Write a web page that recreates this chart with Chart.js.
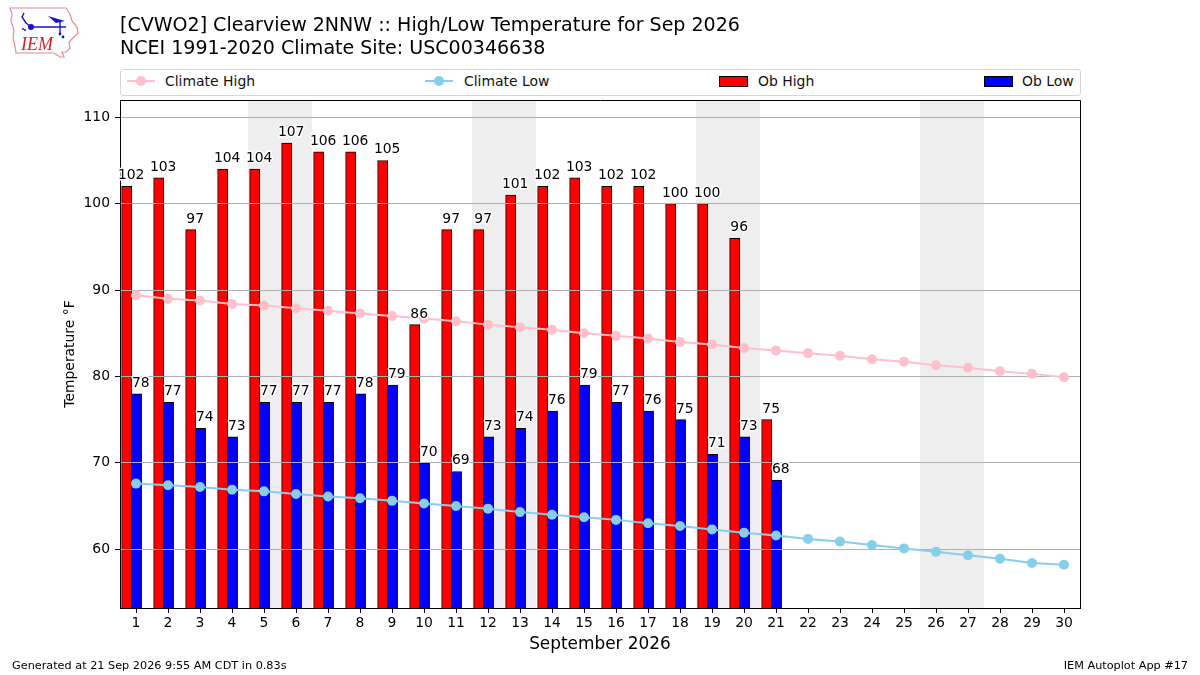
<!DOCTYPE html>
<html><head><meta charset="utf-8">
<script src="https://cdn.jsdelivr.net/npm/chart.js@4"></script>
<style>
html,body{margin:0;padding:0;background:#fff;}
body{width:1200px;height:675px;position:relative;overflow:hidden;font-family:"DejaVu Sans",sans-serif;color:#000;}
canvas{position:absolute;left:0;top:0;}
.t{position:absolute;white-space:nowrap;}
#title{left:120px;top:13px;font-size:19.05px;line-height:23px;}
.f{font-size:11.25px;top:659px;line-height:13px;}
#legend{position:absolute;left:120px;top:69px;width:959px;height:25px;border:1px solid #d6d6d6;border-radius:3px;background:#fff;}
.lt{position:absolute;top:3px;font-size:13.95px;line-height:16px;color:#111;white-space:nowrap;}
.sw{position:absolute;top:6px;width:27px;height:9px;border:1px solid #000;}
svg.h{position:absolute;top:0;}
#logo{position:absolute;left:8px;top:6px;}
</style></head><body>
<canvas id="c" width="1200" height="675"></canvas>
<svg id="logo" width="72" height="54" viewBox="0 0 72 54">
<path d="M2 2 L58 2 L62 8 L64 15 L69 21 L70 27 L66 31 L61 36 L62 42 L58 46 L54 46 L56 51 L52 51 L46 47 L8 47 L7 40 L5 32 L6 24 L3 15 L4 8 Z" fill="#fff" stroke="#e88a90" stroke-width="1.2"/>
<path d="M23 21 H58 M52 15 V28 M16 7 L14 11 L18 17 L23 21" fill="none" stroke="#1414d2" stroke-width="1.4"/>
<path d="M40 10 L50 13 L57 15 L48 17 Z" fill="#1414d2"/>
<circle cx="23" cy="21" r="3" fill="#1414d2"/>
<circle cx="52" cy="28" r="1.4" fill="#1414d2"/><circle cx="55" cy="31" r="1.4" fill="#1414d2"/>
<circle cx="15" cy="23" r="1" fill="#1414d2"/><circle cx="17" cy="24" r="1" fill="#1414d2"/>
<text x="13" y="44" font-family="Liberation Serif" font-style="italic" font-size="18" fill="#d8202a">IEM</text>
</svg>
<div id="title" class="t">[CVWO2] Clearview 2NNW :: High/Low Temperature for Sep 2026<br>NCEI 1991-2020 Climate Site: USC00346638</div>
<div id="legend">
<svg class="h" style="left:5px" width="30" height="25"><line x1="1" y1="11" x2="29" y2="11" stroke="#ffc0cb" stroke-width="2"/><circle cx="15" cy="11" r="5" fill="#ffc0cb"/></svg>
<span class="lt" style="left:44px">Climate High</span>
<svg class="h" style="left:303px" width="30" height="25"><line x1="1" y1="11" x2="29" y2="11" stroke="#87ceeb" stroke-width="2"/><circle cx="15" cy="11" r="5" fill="#87ceeb"/></svg>
<span class="lt" style="left:343px">Climate Low</span>
<span class="sw" style="left:598px;background:#f00"></span>
<span class="lt" style="left:637px">Ob High</span>
<span class="sw" style="left:863px;background:#00f"></span>
<span class="lt" style="left:901px">Ob Low</span>
</div>
<div class="t f" style="left:12px">Generated at 21 Sep 2026 9:55 AM CDT in 0.83s</div>
<div class="t f" style="right:12px">IEM Autoplot App #17</div>
<script>
const days = [1,2,3,4,5,6,7,8,9,10,11,12,13,14,15,16,17,18,19,20,21,22,23,24,25,26,27,28,29,30];
const obHigh = [102,103,97,104,104,107,106,106,105,86,97,97,101,102,103,102,102,100,100,96,75];
const obLow = [78,77,74,73,77,77,77,78,79,70,69,73,74,76,79,77,76,75,71,73,68];
const climateHigh = [89.4,89.0,88.8,88.4,88.2,87.9,87.6,87.3,87.0,86.7,86.4,86.0,85.7,85.4,85.0,84.7,84.4,84.0,83.7,83.3,83.0,82.7,82.4,82.0,81.7,81.3,81.0,80.6,80.3,79.9];
const climateLow = [67.6,67.4,67.2,66.9,66.7,66.4,66.1,65.9,65.6,65.3,65.0,64.7,64.3,64.0,63.7,63.4,63.0,62.7,62.3,61.9,61.6,61.2,60.9,60.5,60.1,59.7,59.3,58.9,58.4,58.2];
const weekendSpans = [[4.5,6.5],[11.5,13.5],[18.5,20.5],[25.5,27.5]];
const yTicks = [60,70,80,90,100,110];
const FONT = '"DejaVu Sans", sans-serif';

const decor = {
  id:'decor',
  beforeDraw(ch){
    const {ctx,chartArea:a,scales:{x}} = ch;
    ctx.save(); ctx.fillStyle='#eeeeee';
    weekendSpans.forEach(([s,e])=>{
      const l=x.getPixelForValue(s), r=x.getPixelForValue(e);
      ctx.fillRect(l,a.top,r-l,a.bottom-a.top);
    });
    ctx.restore();
  },
  afterDatasetDraw(ch,args){
    if(args.index!==1) return;
    const {ctx,chartArea:a,scales:{y}} = ch;
    ctx.save(); ctx.strokeStyle='#b0b0b0'; ctx.lineWidth=1;
    yTicks.forEach(v=>{
      const p=Math.floor(y.getPixelForValue(v))+0.5;
      ctx.beginPath(); ctx.moveTo(a.left,p); ctx.lineTo(a.right,p); ctx.stroke();
    });
    ctx.restore();
  },
  afterDatasetsDraw(ch){
    const {ctx,chartArea:a,scales:{x,y}} = ch;
    ctx.save();
    ctx.font='13.9px '+FONT; ctx.textAlign='center'; ctx.textBaseline='alphabetic';
    ctx.lineJoin='round';
    const put=(arr,off)=>arr.forEach((v,i)=>{
      const px=x.getPixelForValue(days[i]+off), py=y.getPixelForValue(v)-7;
      ctx.strokeStyle='#fff'; ctx.lineWidth=3; ctx.strokeText(String(v),px,py);
      ctx.fillStyle='#000'; ctx.fillText(String(v),px,py);
    });
    ctx.strokeStyle='#000'; ctx.lineWidth=1;
    ctx.strokeRect(a.left+0.5,a.top+0.5,a.right-a.left,a.bottom-a.top);
    put(obHigh,-0.15); put(obLow,0.15);
    ctx.restore();
  }
};

new Chart(document.getElementById('c'),{
  type:'bar',
  data:{datasets:[
    {type:'bar',label:'Ob High',data:obHigh.map((v,i)=>({x:days[i]-0.29,y:v})),backgroundColor:'#ff0000',borderColor:'#000',borderWidth:1,borderSkipped:false,barThickness:10.2,grouped:false,order:3},
    {type:'bar',label:'Ob Low',data:obLow.map((v,i)=>({x:days[i]+0.01,y:v})),backgroundColor:'#0000ff',borderColor:'#000',borderWidth:1,borderSkipped:false,barThickness:10.6,grouped:false,order:2},
    {type:'line',label:'Climate High',data:climateHigh.map((v,i)=>({x:days[i],y:v})),borderColor:'#ffc0cb',backgroundColor:'#ffc0cb',borderWidth:2,pointRadius:5,pointBorderWidth:0,tension:0,order:1},
    {type:'line',label:'Climate Low',data:climateLow.map((v,i)=>({x:days[i],y:v})),borderColor:'#87ceeb',backgroundColor:'#87ceeb',borderWidth:2,pointRadius:5,pointBorderWidth:0,tension:0,order:0}
  ]},
  options:{
    responsive:false,animation:false,
    layout:{padding:{left:62,right:120,top:100,bottom:20}},
    plugins:{legend:{display:false},title:{display:false},tooltip:{enabled:false}},
    scales:{
      x:{type:'linear',min:0.5,max:30.5,offset:false,
        afterBuildTicks(s){s.ticks=days.map(d=>({value:d}));},
        afterFit(s){s.height=47;},
        grid:{offset:false,drawOnChartArea:false,tickColor:'#000',tickLength:5},
        border:{color:'#000'},
        ticks:{autoSkip:false,maxRotation:0,color:'#000',font:{family:FONT,size:13.9},padding:2,callback:v=>String(v)},
        title:{display:true,text:'September 2026',color:'#000',font:{family:FONT,size:16.9,weight:'normal'},padding:{top:0,bottom:0}}
      },
      y:{type:'linear',min:53.2,max:112,
        afterBuildTicks(s){s.ticks=yTicks.map(v=>({value:v}));},
        afterFit(s){s.width=58;},
        grid:{drawOnChartArea:false,tickColor:'#000',tickLength:5},
        border:{color:'#000'},
        ticks:{color:'#000',font:{family:FONT,size:13.9},padding:5,callback:v=>String(v)},
        title:{display:true,text:'Temperature °F',color:'#000',font:{family:FONT,size:13.9,weight:'normal'},padding:{top:0,bottom:0}}
      }
    }
  },
  plugins:[decor]
});
</script>
</body></html>
